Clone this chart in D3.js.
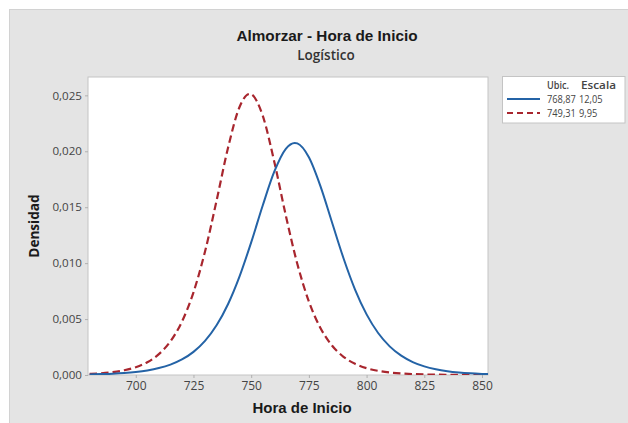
<!DOCTYPE html>
<html>
<head>
<meta charset="utf-8">
<script src="https://cdn.jsdelivr.net/npm/d3@7"></script>
<style>
  html, body { margin: 0; padding: 0; background: #ffffff; }
  svg { display: block; }
</style>
</head>
<body>
<svg id="chart" width="628" height="423"></svg>
<script>
// ---- data ----
const titleText = "Almorzar - Hora de Inicio";
const subtitleText = "Logístico";
const xLabel = "Hora de Inicio";
const yLabel = "Densidad";

const xTicks = [700, 725, 750, 775, 800, 825, 850];
const yTicks = [0, 0.005, 0.010, 0.015, 0.020, 0.025];

const legendHeaders = ["Ubic.", "Escala"];
const seriesNames = ["768,87", "749,31"];
const seriesScale = ["12,05", "9,95"];

// Blue solid curve (Ubic. 768,87  Escala 12,05)
const blueX = [680, 685, 690, 695, 700, 705, 710, 715, 720, 725, 730, 735, 740, 745, 750, 755, 760, 765, 768.87, 770, 775, 780, 785, 790, 795, 800, 805, 810, 815, 820, 825, 830, 835, 840, 845, 850, 855];
const blueY = [0.000052, 0.000079, 0.000119, 0.000180, 0.000272, 0.000410, 0.000618, 0.000928, 0.001389, 0.002068, 0.003050, 0.004442, 0.006350, 0.008840, 0.011860, 0.015150, 0.018173, 0.020221, 0.020747, 0.020701, 0.019461, 0.016882, 0.013658, 0.010441, 0.007642, 0.005418, 0.003755, 0.002562, 0.001729, 0.001158, 0.000772, 0.000513, 0.000340, 0.000225, 0.000149, 0.000099, 0.000065];

// Red dashed curve (Ubic. 749,31  Escala 9,95)
const redX = [680, 685, 690, 695, 700, 705, 710, 715, 720, 725, 730, 735, 740, 745, 749.31, 750, 755, 760, 765, 770, 775, 780, 785, 790, 795, 800, 805, 810, 815, 820, 825, 830, 835, 840, 845, 850, 855];
const redY = [0.000095, 0.000156, 0.000258, 0.000425, 0.000698, 0.001143, 0.001862, 0.003003, 0.004768, 0.007392, 0.011035, 0.015582, 0.020340, 0.023983, 0.025126, 0.025096, 0.023179, 0.019072, 0.014262, 0.009927, 0.006570, 0.004205, 0.002635, 0.001628, 0.000998, 0.000609, 0.000370, 0.000225, 0.000136, 0.000082, 0.000050, 0.000030, 0.000018, 0.000011, 0.000007, 0.000004, 0.000003];

// ---- layout ----
const svg = d3.select("#chart");
const W = 628, H = 423;
const plot = { left: 88, right: 488, top: 77, bottom: 375 };

const blueColor = "#2463a6";
const redColor = "#a8262e";
const textColor = "#454545";
const sansFont = "'Open Sans', 'Noto Sans', sans-serif";
const boldFont = "'Liberation Sans', Arial, sans-serif";

// condense a text element horizontally (reference uses a narrow face)
function condense(sel, k) {
  sel.each(function () {
    const len = this.getComputedTextLength();
    d3.select(this).attr("textLength", len * k).attr("lengthAdjust", "spacingAndGlyphs");
  });
}

// background panel
svg.append("rect").attr("x", 0).attr("y", 0).attr("width", W).attr("height", H).attr("fill", "#ffffff");
svg.append("rect").attr("x", 9.5).attr("y", 9.5).attr("width", W).attr("height", H)
  .attr("fill", "#e4e4e4").attr("stroke", "#d2d2d2").attr("stroke-width", 1);

// scales
const x = d3.scaleLinear().domain([679.3, 852.6]).range([plot.left, plot.right]);
const y = d3.scaleLinear().domain([0, 0.02664]).range([plot.bottom, plot.top]);

// plot area
svg.append("rect")
  .attr("x", plot.left).attr("y", plot.top)
  .attr("width", plot.right - plot.left).attr("height", plot.bottom - plot.top)
  .attr("fill", "#ffffff").attr("stroke", "#c4c4c4").attr("stroke-width", 1);

svg.append("clipPath").attr("id", "clip").append("rect")
  .attr("x", plot.left).attr("y", plot.top - 5)
  .attr("width", plot.right - plot.left).attr("height", plot.bottom - plot.top + 5);

// axes
const xAxis = d3.axisBottom(x).tickValues(xTicks).tickSize(3).tickPadding(3)
  .tickFormat(d3.format("d"));
const gx = svg.append("g").attr("transform", `translate(0,${plot.bottom})`).call(xAxis);
gx.select(".domain").remove();
gx.selectAll(".tick line").attr("stroke", "#b0b0b0");
gx.selectAll(".tick text").attr("fill", textColor).attr("font-family", sansFont).attr("font-size", "12px");

const yFmt = v => d3.format(".3f")(v).replace(".", ",");
const yAxis = d3.axisLeft(y).tickValues(yTicks).tickSize(3).tickPadding(3).tickFormat(yFmt);
const gy = svg.append("g").attr("transform", `translate(${plot.left},0)`).call(yAxis);
gy.select(".domain").remove();
gy.selectAll(".tick line").attr("stroke", "#b0b0b0");
gy.selectAll(".tick text").attr("fill", textColor).attr("font-family", sansFont).attr("font-size", "11.6px");

// curves
const line = d3.line().x(d => x(d[0])).y(d => y(d[1])).curve(d3.curveMonotoneX);
const curves = svg.append("g").attr("clip-path", "url(#clip)");

curves.append("path")
  .datum(redX.map((v, i) => [v, redY[i]]))
  .attr("d", line).attr("fill", "none")
  .attr("stroke", redColor).attr("stroke-width", 2.2)
  .attr("stroke-dasharray", "7.5,4");

curves.append("path")
  .datum(blueX.map((v, i) => [v, blueY[i]]))
  .attr("d", line).attr("fill", "none")
  .attr("stroke", blueColor).attr("stroke-width", 2);

// titles
svg.append("text").attr("x", 327).attr("y", 41).attr("text-anchor", "middle")
  .attr("font-family", boldFont).attr("font-weight", "bold").attr("font-size", "15.3px")
  .attr("fill", "#1a1a1a").text(titleText);
svg.append("text").attr("x", 326).attr("y", 60).attr("text-anchor", "middle")
  .attr("font-family", sansFont).attr("font-weight", 600).attr("font-size", "13.5px")
  .attr("fill", "#333333").text(subtitleText);

svg.append("text").attr("x", 302).attr("y", 413).attr("text-anchor", "middle")
  .attr("font-family", boldFont).attr("font-weight", "bold").attr("font-size", "15px")
  .attr("fill", "#1a1a1a").text(xLabel);

svg.append("text")
  .attr("transform", `translate(39,${(plot.top + plot.bottom) / 2}) rotate(-90)`)
  .attr("text-anchor", "middle")
  .attr("font-family", sansFont).attr("font-weight", "bold").attr("font-size", "13.6px")
  .attr("fill", "#1a1a1a").text(yLabel);

// legend
const lg = svg.append("g");
lg.append("rect").attr("x", 502.5).attr("y", 76.5).attr("width", 122.5).attr("height", 46.5)
  .attr("fill", "#ffffff").attr("stroke", "#c4c4c4").attr("stroke-width", 1);
const colX = [547, 581];
const headerWidths = [22, 35];
legendHeaders.forEach((h, j) => {
  lg.append("text").attr("x", colX[j]).attr("y", 88.5).attr("font-family", sansFont).attr("font-weight", 600)
    .attr("font-size", "10.3px").attr("fill", textColor).text(h)
    .attr("textLength", headerWidths[j]).attr("lengthAdjust", "spacingAndGlyphs");
});

const legColors = [blueColor, redColor];
const legDash = [null, "6,4"];
const rowY = [99, 113];
seriesNames.forEach((name, i) => {
  lg.append("line").attr("x1", 507).attr("x2", 540).attr("y1", rowY[i]).attr("y2", rowY[i])
    .attr("stroke", legColors[i]).attr("stroke-width", 2)
    .attr("stroke-dasharray", legDash[i]);
  lg.append("text").attr("x", colX[0]).attr("y", rowY[i] + 3.8).attr("font-family", sansFont)
    .attr("font-size", "10.3px").attr("fill", textColor).text(name).call(condense, 0.9);
  lg.append("text").attr("x", colX[1] - 2).attr("y", rowY[i] + 3.8).attr("font-family", sansFont)
    .attr("font-size", "10.3px").attr("fill", textColor).text(seriesScale[i]).call(condense, 0.9);
});
</script>
</body>
</html>
